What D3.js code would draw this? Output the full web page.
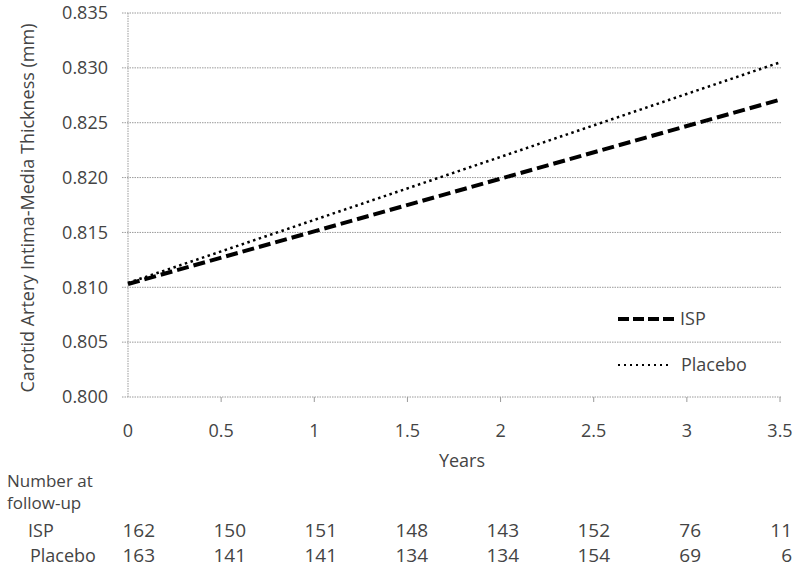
<!DOCTYPE html>
<html><head><meta charset="utf-8">
<script src="https://cdn.jsdelivr.net/npm/d3@7"></script>
<style>body{margin:0;background:#fff}svg{display:block}text{font-family:"Open Sans",sans-serif;fill:#444}</style>
</head><body><svg id="c" width="800" height="569"></svg>
<script>
const years = [0, 3.5];
const ispValues = [0.8103, 0.8271];
const placeboValues = [0.8104, 0.8305];
const yTicks = [0.800, 0.805, 0.810, 0.815, 0.820, 0.825, 0.830, 0.835];
const xTicks = [0, 0.5, 1, 1.5, 2, 2.5, 3, 3.5];
const ispCounts = [162, 150, 151, 148, 143, 152, 76, 11];
const placeboCounts = [163, 141, 141, 134, 134, 154, 69, 6];

const svg = d3.select("#c");
const x = d3.scaleLinear().domain([0, 3.5]).range([128, 780]);
const y = d3.scaleLinear().domain([0.800, 0.835]).range([397, 13]);
const grid = "#9a9a9a";

// gridlines
svg.append("g").selectAll("line").data(yTicks).join("line")
  .attr("x1", 122).attr("x2", 781).attr("y1", d => y(d)).attr("y2", d => y(d))
  .attr("stroke", grid).attr("stroke-width", 1).attr("stroke-dasharray", "1.5,1");
// y axis line
svg.append("line").attr("x1", 128).attr("x2", 128).attr("y1", y(0.835)).attr("y2", y(0.8))
  .attr("stroke", grid).attr("stroke-dasharray", "1.5,1");
// x ticks
svg.append("g").selectAll("line").data(xTicks.slice(1)).join("line")
  .attr("x1", d => x(d)).attr("x2", d => x(d)).attr("y1", y(0.8)).attr("y2", y(0.8) + 5)
  .attr("stroke", grid);

// tick labels
svg.append("g").selectAll("text").data(yTicks).join("text")
  .attr("x", 108).attr("y", d => y(d)).attr("dy", "0.35em").attr("text-anchor", "end")
  .attr("font-size", 18).text(d => d3.format(".3f")(d));
svg.append("g").selectAll("text").data(xTicks).join("text")
  .attr("x", d => x(d)).attr("y", 437).attr("text-anchor", "middle")
  .attr("font-size", 18).text(d => d);

// titles
svg.append("text").attr("transform", "translate(34,208) rotate(-90)").attr("text-anchor", "middle")
  .attr("font-size", 18).text("Carotid Artery Intima-Media Thickness (mm)");
svg.append("text").attr("x", 462).attr("y", 467).attr("text-anchor", "middle")
  .attr("font-size", 18).text("Years");

// lines
const line = d3.line().x(d => x(d[0])).y(d => y(d[1]));
svg.append("path").datum(years.map((t, i) => [t, placeboValues[i]])).attr("d", line)
  .attr("fill", "none").attr("stroke", "#000").attr("stroke-width", 2.5)
  .attr("stroke-dasharray", "2.5,3.5");
svg.append("path").datum(years.map((t, i) => [t, ispValues[i]])).attr("d", line)
  .attr("fill", "none").attr("stroke", "#000").attr("stroke-width", 4)
  .attr("stroke-dasharray", "12,5");

// legend
svg.append("line").attr("x1", 618).attr("x2", 677).attr("y1", 319).attr("y2", 319)
  .attr("stroke", "#000").attr("stroke-width", 4).attr("stroke-dasharray", "11,4");
svg.append("text").attr("x", 680).attr("y", 325).attr("font-size", 18).text("ISP");
svg.append("line").attr("x1", 618).attr("x2", 672).attr("y1", 365).attr("y2", 365)
  .attr("stroke", "#000").attr("stroke-width", 2).attr("stroke-dasharray", "2,4");
svg.append("text").attr("x", 681).attr("y", 371).attr("font-size", 18).text("Placebo");

// number at follow-up table
const tx = d3.scaleLinear().domain([0, 3.5]).range([155, 792]);
svg.append("text").attr("x", 7).attr("y", 487).attr("font-size", 17).text("Number at");
svg.append("text").attr("x", 7).attr("y", 509).attr("font-size", 17).text("follow-up");
svg.append("text").attr("x", 28).attr("y", 537).attr("font-size", 18).text("ISP");
svg.append("text").attr("x", 30).attr("y", 562).attr("font-size", 18).text("Placebo");
svg.append("g").selectAll("text").data(ispCounts).join("text")
  .attr("x", (d, i) => tx(xTicks[i])).attr("y", 537).attr("text-anchor", "end")
  .attr("font-size", 19).text(d => d);
svg.append("g").selectAll("text").data(placeboCounts).join("text")
  .attr("x", (d, i) => tx(xTicks[i])).attr("y", 562).attr("text-anchor", "end")
  .attr("font-size", 19).text(d => d);
</script></body></html>
